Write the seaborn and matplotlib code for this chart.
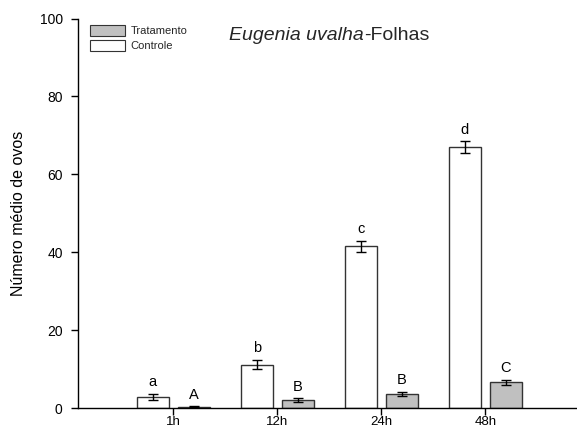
import matplotlib
matplotlib.use("Agg")
import matplotlib.pyplot as plt
import seaborn as sns
import pandas as pd
from matplotlib.patches import Patch

# Mean number of eggs per exposure time, with standard errors and letters
tempos = ["1h", "12h", "24h", "48h"]
controle = [2.8, 11.1, 41.5, 67.0]
controle_erro = [0.8, 1.2, 1.4, 1.5]
tratamento = [0.3, 2.0, 3.6, 6.6]
tratamento_erro = [0.1, 0.5, 0.5, 0.7]
letras_controle = ["a", "b", "c", "d"]
letras_tratamento = ["A", "B", "B", "C"]
y_ticks = [0, 20, 40, 60, 80, 100]

grupos = ["Controle", "Tratamento"]
df = pd.DataFrame({
    "tempo": tempos * 2,
    "grupo": ["Controle"] * len(tempos) + ["Tratamento"] * len(tempos),
    "ovos": controle + tratamento,
})

sns.set_theme(style="ticks")
plt.rcParams["font.family"] = ["Liberation Sans", "DejaVu Sans"]

W, H = 577, 430
fig = plt.figure(figsize=(W / 100, H / 100), dpi=100)
ax = fig.add_axes([78 / W, (H - 408) / H, (W - 78) / W, (408 - 18.5) / H])

cores = {"Controle": "#ffffff", "Tratamento": "#c0c0c0"}
borda = "#333333"
sns.barplot(data=df, x="tempo", y="ovos", hue="grupo", order=tempos,
            hue_order=grupos, palette=cores, width=0.79, gap=0.22,
            edgecolor=borda, linewidth=1.0, saturation=1, legend=False,
            errorbar=None, ax=ax)

erros = {"Controle": controle_erro, "Tratamento": tratamento_erro}
valores = {"Controle": controle, "Tratamento": tratamento}
letras = {"Controle": letras_controle, "Tratamento": letras_tratamento}
for grupo, cont in zip(grupos, ax.containers):
    xs = [b.get_x() + b.get_width() / 2 for b in cont]
    ax.errorbar(xs, valores[grupo], yerr=erros[grupo], fmt="none",
                ecolor="black", elinewidth=1.0, capsize=3.6, capthick=1.0)
    for x, v, e, t in zip(xs, valores[grupo], erros[grupo], letras[grupo]):
        ax.text(x, v + e + 1.2, t, ha="center", va="bottom", fontsize=10.5,
                color="black")

ax.set_ylim(0, 100)
ax.set_xlim(-0.916, -0.916 + (W - 78) / 104)
ax.set_yticks(y_ticks)
ax.tick_params(axis="both", direction="out", length=5, width=1,
               labelsize=10, colors="black")
ax.tick_params(axis="y", pad=6)
ax.tick_params(axis="x", pad=1, labelsize=9.5)
for s in ["top", "right"]:
    ax.spines[s].set_visible(False)
for s in ["left", "bottom"]:
    ax.spines[s].set_color("black")
    ax.spines[s].set_linewidth(1.0)
ax.set_xlabel("")
ax.set_ylabel("Número médio de ovos", fontsize=11.5, color="black", labelpad=10)

handles = [Patch(facecolor=cores["Tratamento"], edgecolor=borda, linewidth=0.8),
           Patch(facecolor=cores["Controle"], edgecolor=borda, linewidth=0.8)]
ax.legend(handles, ["Tratamento", "Controle"], loc="upper left",
          bbox_to_anchor=(0.01, 1.0), frameon=False, fontsize=8,
          handlelength=3.2, handleheight=1.1, handletextpad=0.5,
          labelspacing=0.35, borderaxespad=0.2)

fig.text(364 / W, (H - 40) / H, "Eugenia uvalha", fontsize=14, style="italic",
         ha="right", va="baseline")
fig.text(364 / W, (H - 40) / H, "-Folhas", fontsize=14, ha="left", va="baseline")

fig.savefig("out.png", dpi=100)
